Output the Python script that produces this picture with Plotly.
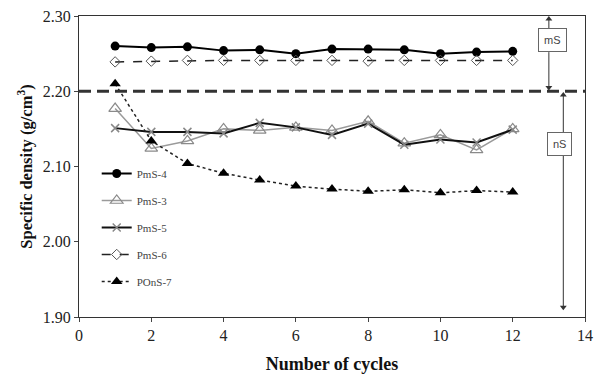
import plotly.graph_objects as go

cycles = list(range(1, 13))
pms4 = [2.260, 2.258, 2.259, 2.254, 2.255, 2.250, 2.256, 2.256, 2.255, 2.250, 2.252, 2.253]
pms3 = [2.177, 2.124, 2.134, 2.150, 2.148, 2.152, 2.148, 2.160, 2.131, 2.142, 2.122, 2.150]
pms5 = [2.151, 2.146, 2.146, 2.144, 2.158, 2.152, 2.142, 2.157, 2.129, 2.136, 2.132, 2.149]
pms6 = [2.239, 2.240, 2.241, 2.241, 2.241, 2.241, 2.241, 2.240, 2.241, 2.241, 2.241, 2.241]
pons7 = [2.210, 2.134, 2.104, 2.091, 2.082, 2.074, 2.070, 2.067, 2.069, 2.065, 2.068, 2.066]
threshold = 2.20

serif = "Liberation Serif, Times New Roman, serif"

fig = go.Figure()
fig.add_trace(go.Scatter(x=cycles, y=pms4, name="PmS-4", mode="lines+markers",
                         line=dict(color="black", width=2),
                         marker=dict(symbol="circle", size=9, color="black"),
                         legendgroup="a"))
fig.add_trace(go.Scatter(x=cycles, y=pms3, name="PmS-3", mode="lines+markers",
                         line=dict(color="#9a9a9a", width=1.5),
                         marker=dict(symbol="triangle-up-open", size=11, color="#8a8a8a",
                                     line=dict(width=1.2)),
                         legendgroup="b"))
fig.add_trace(go.Scatter(x=cycles, y=pms5, name="PmS-5", mode="lines+markers",
                         line=dict(color="#111111", width=2),
                         marker=dict(symbol="x-thin-open", size=8, color="#888888",
                                     line=dict(width=1.5, color="#888888")),
                         legendgroup="c"))
fig.add_trace(go.Scatter(x=cycles, y=pms6, name="PmS-6", mode="lines+markers",
                         line=dict(color="#222222", width=1.5, dash="dash"),
                         marker=dict(symbol="diamond-open", size=8, color="#555555",
                                     line=dict(width=1)),
                         legendgroup="d"))
fig.add_trace(go.Scatter(x=cycles, y=pons7, name="POnS-7", mode="lines+markers",
                         line=dict(color="#222222", width=1.5, dash="dot"),
                         marker=dict(symbol="triangle-up", size=10, color="black"),
                         legendgroup="e"))

fig.add_shape(type="line", xref="x", yref="y", x0=0, x1=14, y0=threshold, y1=threshold,
              line=dict(color="#333333", width=3, dash="12px,6px"))

# vertical arrows: (x, tail y, tip y, head symbol)
arrows = [
    (13.0, 2.2685 + 0.0145, 2.296, "triangle-up"),
    (13.0, 2.2685 - 0.0165, 2.205, "triangle-down"),
    (13.4, 2.130 + 0.0155, 2.195, "triangle-up"),
    (13.4, 2.130 - 0.0125, 1.913, "triangle-down"),
]
for ax_x, tail_y, tip_y, sym in arrows:
    fig.add_trace(go.Scatter(x=[ax_x, ax_x], y=[tail_y, tip_y], mode="lines",
                             line=dict(color="#333333", width=1),
                             showlegend=False, hoverinfo="skip"))
    fig.add_trace(go.Scatter(x=[ax_x], y=[tip_y], mode="markers",
                             marker=dict(symbol=sym, size=6, color="#333333"),
                             showlegend=False, hoverinfo="skip"))

fig.add_annotation(x=13.1, y=2.2685, xref="x", yref="y", text="mS", showarrow=False,
                   font=dict(family="Arial, sans-serif", size=11, color="#444444"),
                   bordercolor="#666666", borderwidth=1, borderpad=5, bgcolor="white")
fig.add_annotation(x=13.3, y=2.130, xref="x", yref="y", text="nS", showarrow=False,
                   font=dict(family="Arial, sans-serif", size=11, color="#444444"),
                   bordercolor="#666666", borderwidth=1, borderpad=5, bgcolor="white")

fig.update_layout(
    width=601, height=380,
    margin=dict(l=79, r=8, t=13, b=63),
    paper_bgcolor="white", plot_bgcolor="white",
    font=dict(family=serif, color="#222222"),
    showlegend=True,
    legend=dict(x=0.035, y=0.525, xanchor="left", yanchor="top",
                font=dict(family=serif, size=11, color="#444444"),
                bgcolor="rgba(255,255,255,0)", tracegroupgap=8,
                itemwidth=30),
    xaxis=dict(range=[0, 14], tickvals=[0, 2, 4, 6, 8, 10, 12, 14],
               showgrid=False, zeroline=False, showline=True, linecolor="#333333",
               linewidth=1, mirror=True, ticks="outside", ticklen=4,
               tickfont=dict(family=serif, size=16, color="#222222"),
               title=dict(text="<b>Number of cycles</b>", standoff=14,
                          font=dict(family=serif, size=18, color="#111111"))),
    yaxis=dict(range=[1.90, 2.30], tickvals=[1.90, 2.00, 2.10, 2.20, 2.30],
               tickformat=".2f",
               showgrid=False, zeroline=False, showline=True, linecolor="#333333",
               linewidth=1, mirror=True, ticks="outside", ticklen=4,
               tickfont=dict(family=serif, size=16, color="#222222"),
               title=dict(text="<b>Specific density (g/cm<sup>3</sup>)</b>", standoff=6,
                          font=dict(family=serif, size=16.5, color="#111111"))),
)

fig.write_html("out.html")
